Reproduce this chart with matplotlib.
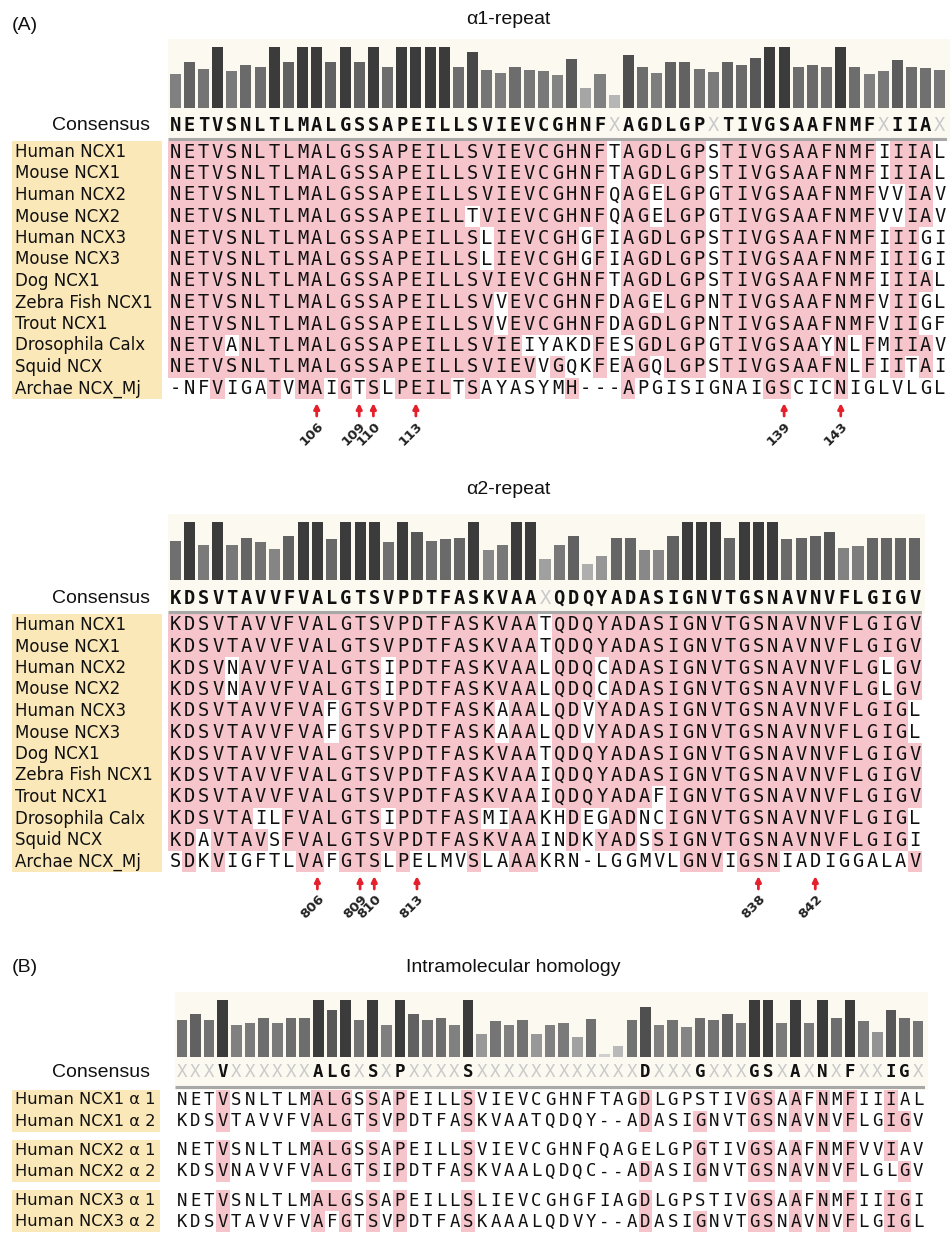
import numpy as np
import matplotlib
matplotlib.use("Agg")
import matplotlib.pyplot as plt
from matplotlib.patches import Rectangle
from matplotlib.transforms import blended_transform_factory

# ---------------- data ----------------
species = ["Human NCX1", "Mouse NCX1", "Human NCX2", "Mouse NCX2", "Human NCX3",
           "Mouse NCX3", "Dog NCX1", "Zebra Fish NCX1", "Trout NCX1",
           "Drosophila Calx", "Squid NCX", "Archae NCX_Mj"]

a1_consensus = "NETVSNLTLMALGSSAPEILLSVIEVCGHNFXAGDLGPXTIVGSAAFNMFXIIAX"
a1_seqs = [
    "NETVSNLTLMALGSSAPEILLSVIEVCGHNFTAGDLGPSTIVGSAAFNMFIIIAL",
    "NETVSNLTLMALGSSAPEILLSVIEVCGHNFTAGDLGPSTIVGSAAFNMFIIIAL",
    "NETVSNLTLMALGSSAPEILLSVIEVCGHNFQAGELGPGTIVGSAAFNMFVVIAV",
    "NETVSNLTLMALGSSAPEILLTVIEVCGHNFQAGELGPGTIVGSAAFNMFVVIAV",
    "NETVSNLTLMALGSSAPEILLSLIEVCGHGFIAGDLGPSTIVGSAAFNMFIIIGI",
    "NETVSNLTLMALGSSAPEILLSLIEVCGHGFIAGDLGPSTIVGSAAFNMFIIIGI",
    "NETVSNLTLMALGSSAPEILLSVIEVCGHNFTAGDLGPSTIVGSAAFNMFIIIAL",
    "NETVSNLTLMALGSSAPEILLSVVEVCGHNFDAGELGPNTIVGSAAFNMFVIIGL",
    "NETVSNLTLMALGSSAPEILLSVVEVCGHNFDAGDLGPNTIVGSAAFNMFVIIGF",
    "NETVANLTLMALGSSAPEILLSVIEIYAKDFESGDLGPGTIVGSAAYNLFMIIAV",
    "NETVSNLTLMALGSSAPEILLSVIEVVGQKFEAGQLGPSTIVGSAAFNLFIITAI",
    "-NFVIGATVMAIGTSLPEILTSAYASYMH---APGISIGNAIGSCICNIGLVLGL",
]
a1_conservation = [0.56, 0.75, 0.64, 1.0, 0.60, 0.70, 0.68, 1.0, 0.76, 1.0,
                   1.0, 0.76, 1.0, 0.75, 1.0, 0.68, 1.0, 1.0, 1.0, 1.0,
                   0.68, 0.92, 0.63, 0.58, 0.68, 0.62, 0.61, 0.54, 0.80, 0.32,
                   0.56, 0.22, 0.87, 0.68, 0.58, 0.76, 0.75, 0.64, 0.59, 0.75,
                   0.70, 0.82, 1.0, 1.0, 0.68, 0.70, 0.67, 1.0, 0.68, 0.56,
                   0.61, 0.79, 0.68, 0.66, 0.62]
a1_sites = [106, 109, 110, 113, 139, 143]
a1_site_cols = [11, 14, 15, 18, 44, 48]

a2_consensus = "KDSVTAVVFVALGTSVPDTFASKVAAXQDQYADASIGNVTGSNAVNVFLGIGV"
a2_seqs = [
    "KDSVTAVVFVALGTSVPDTFASKVAATQDQYADASIGNVTGSNAVNVFLGIGV",
    "KDSVTAVVFVALGTSVPDTFASKVAATQDQYADASIGNVTGSNAVNVFLGIGV",
    "KDSVNAVVFVALGTSIPDTFASKVAALQDQCADASIGNVTGSNAVNVFLGLGV",
    "KDSVNAVVFVALGTSIPDTFASKVAALQDQCADASIGNVTGSNAVNVFLGLGV",
    "KDSVTAVVFVAFGTSVPDTFASKAAALQDVYADASIGNVTGSNAVNVFLGIGL",
    "KDSVTAVVFVAFGTSVPDTFASKAAALQDVYADASIGNVTGSNAVNVFLGIGL",
    "KDSVTAVVFVALGTSVPDTFASKVAATQDQYADASIGNVTGSNAVNVFLGIGV",
    "KDSVTAVVFVALGTSVPDTFASKVAAIQDQYADASIGNVTGSNAVNVFLGIGV",
    "KDSVTAVVFVALGTSVPDTFASKVAAIQDQYADAFIGNVTGSNAVNVFLGIGV",
    "KDSVTAILFVALGTSIPDTFASMIAAKHDEGADNCIGNVTGSNAVNVFLGIGL",
    "KDAVTAVSFVALGTSVPDTFASKVAAINDKYADSSIGNVTGSNAVNVFLGIGI",
    "SDKVIGFTLVAFGTSLPELMVSLAAAKRN-LGGMVLGNVIGSNIADIGGALAV",
]
a2_conservation = [0.67, 1.0, 0.60, 1.0, 0.61, 0.73, 0.65, 0.53, 0.76, 1.0,
                   1.0, 0.71, 1.0, 1.0, 1.0, 0.66, 1.0, 0.83, 0.67, 0.70,
                   0.73, 1.0, 0.51, 0.61, 1.0, 1.0, 0.36, 0.61, 0.76, 0.27,
                   0.42, 0.73, 0.73, 0.51, 0.51, 0.76, 1.0, 1.0, 1.0, 0.73,
                   1.0, 1.0, 1.0, 0.70, 0.73, 0.76, 0.83, 0.55, 0.58, 0.73,
                   0.73, 0.73, 0.73]
a2_sites = [806, 809, 810, 813, 838, 842]
a2_site_cols = [11, 14, 15, 18, 42, 46]

b_labels = ["Human NCX1 α 1", "Human NCX1 α 2", "Human NCX2 α 1",
            "Human NCX2 α 2", "Human NCX3 α 1", "Human NCX3 α 2"]
b_consensus = "XXXVXXXXXXALGXSXPXXXXSXXXXXXXXXXXXDXXXGXXXGSXAXNXFXXIGX"
b_seqs = [
    "NETVSNLTLMALGSSAPEILLSVIEVCGHNFTAGDLGPSTIVGSAAFNMFIIIAL",
    "KDSVTAVVFVALGTSVPDTFASKVAATQDQY--ADASIGNVTGSNAVNVFLGIGV",
    "NETVSNLTLMALGSSAPEILLSVIEVCGHNFQAGELGPGTIVGSAAFNMFVVIAV",
    "KDSVNAVVFVALGTSIPDTFASKVAALQDQC--ADASIGNVTGSNAVNVFLGLGV",
    "NETVSNLTLMALGSSAPEILLSLIEVCGHGFIAGDLGPSTIVGSAAFNMFIIIGI",
    "KDSVTAVVFVAFGTSVPDTFASKAAALQDVY--ADASIGNVTGSNAVNVFLGIGL",
]
b_conservation = [0.65, 0.76, 0.65, 1.0, 0.56, 0.60, 0.68, 0.60, 0.68, 0.68,
                  1.0, 0.82, 1.0, 0.65, 1.0, 0.57, 1.0, 0.76, 0.65, 0.68,
                  0.56, 1.0, 0.41, 0.63, 0.56, 0.65, 0.41, 0.56, 0.60, 0.35,
                  0.66, 0.06, 0.20, 0.65, 0.87, 0.56, 0.65, 0.53, 0.68, 0.65,
                  0.76, 0.60, 1.0, 1.0, 0.60, 1.0, 0.60, 1.0, 0.68, 1.0,
                  0.63, 0.44, 0.82, 0.68, 0.63]

# ---------------- style ----------------
W, H = 950, 1236
PINK = "#f5c5cb"
YELLOW = "#fbe8b8"
CREAM = "#fcf9f1"
INK = "#111111"
SEQ_FONT = "DejaVu Sans Mono"
LAB_FONT = "DejaVu Sans"
HEAD_FONT = ["Liberation Sans", "DejaVu Sans"]

fig = plt.figure(figsize=(W / 100, H / 100), dpi=100)
fig.patch.set_facecolor("white")


def px_axes(x0, y0, x1, y1):
    ax = fig.add_axes([x0 / W, 1 - y1 / H, (x1 - x0) / W, (y1 - y0) / H])
    ax.set_axis_off()
    return ax


def bar_color(h):
    v = 0.23 + (1 - h) * 0.62
    return (v, v, v)


def cream_box(x0, y0, x1, y1):
    fig.add_artist(Rectangle((x0 / W, 1 - y1 / H), (x1 - x0) / W, (y1 - y0) / H,
                             transform=fig.transFigure, color=CREAM, lw=0, zorder=-5))


def draw_bars(x0, x1, y0, y1, heights):
    ax = px_axes(x0, y0, x1, y1)
    n = len(heights)
    ax.bar(np.arange(n) + 0.5, heights, width=0.78,
           color=[bar_color(h) for h in heights], lw=0)
    ax.set_xlim(0, n)
    ax.set_ylim(0, 1)


def block_axes(x0, x1, r0, rp, ytop, ybot):
    return px_axes(x0, r0 + ytop * rp, x1, r0 + ybot * rp)


def draw_consensus(ax, cons, y, line_y, size):
    for j, ch in enumerate(cons):
        if ch == "X":
            ax.text(j + 0.5, y, "X", color="#cacaca", family=SEQ_FONT, size=size,
                    ha="center", va="center")
        else:
            ax.text(j + 0.5, y, ch, color=INK, family=SEQ_FONT, weight="bold",
                    size=size, ha="center", va="center")
    ax.plot([0, len(cons)], [line_y, line_y], color="#a8a8a8", lw=2.2,
            solid_capstyle="butt")
    tr = blended_transform_factory(fig.transFigure, ax.transData)
    ax.text(150 / W, y, "Consensus", transform=tr, ha="right", va="center",
            family=HEAD_FONT, size=14, color=INK)


def draw_rows(ax, seqs, ys, cons, size):
    for seq, y in zip(seqs, ys):
        for j, ch in enumerate(seq):
            if ch == cons[j] and ch != "X":
                ax.add_patch(Rectangle((j, y - 0.5), 1, 1, facecolor=PINK, lw=0,
                                       antialiased=False))
            ax.text(j + 0.5, y, ch, color=INK, family=SEQ_FONT, size=size,
                    ha="center", va="center")


def draw_labels(ax, labels, ys, groups, x1_px, size):
    tr = blended_transform_factory(fig.transFigure, ax.transData)
    for g0, g1 in groups:
        ax.add_patch(Rectangle((12 / W, ys[g0] - 0.5), (x1_px - 12) / W,
                               ys[g1] - ys[g0] + 1, transform=tr, facecolor=YELLOW,
                               lw=0, clip_on=False))
    for lab, y in zip(labels, ys):
        ax.text(15 / W, y, lab, transform=tr, ha="left", va="center",
                family=LAB_FONT, size=size, color=INK)


def draw_sites(ax, cols, nums, y_arrow, y_num):
    for c, num in zip(cols, nums):
        ax.annotate("", xy=(c - 0.5, y_arrow - 0.32), xytext=(c - 0.5, y_arrow + 0.28),
                    arrowprops=dict(arrowstyle="-|>", color="#e3202b", lw=2.0,
                                    mutation_scale=8, shrinkA=0, shrinkB=0))
        ax.text(c - 0.85, y_num, str(num), rotation=45, ha="center", va="center",
                family=LAB_FONT, weight="bold", size=9.5, color="#222222")


def alignment_panel(x0, x1, r0, rp, title, title_y, cons, seqs, cons_h,
                    bar_y0, bar_y1, cols, nums, size):
    ncol = len(cons)
    cream_box(x0, bar_y0 - 8, x1 + 3, r0 - 0.5 * rp)
    fig.text(508 / W, 1 - title_y / H, title, ha="center", va="center",
             family=HEAD_FONT, size=14, color=INK)
    draw_bars(x0, x1, bar_y0, bar_y1, cons_h)
    ax = block_axes(x0, x1, r0, rp, -2.0, 13.6)
    ys = list(range(len(seqs)))
    draw_rows(ax, seqs, ys, cons, size)
    draw_consensus(ax, cons, -1.25, -0.6, size)
    draw_labels(ax, species, ys, [(0, len(seqs) - 1)], 162, 12)
    draw_sites(ax, cols, nums, 12.0, 13.1)
    ax.set_xlim(0, ncol)
    ax.set_ylim(13.6, -2.0)


# ---------------- panel A ----------------
fig.text(12 / W, 1 - 26 / H, "(A)", ha="left", va="center", family=HEAD_FONT,
         size=14, color=INK)
alignment_panel(168, 947, 152, 21.5, "α1-repeat", 20, a1_consensus, a1_seqs,
                a1_conservation, 47, 108, a1_site_cols, a1_sites, 13.5)
alignment_panel(168, 922, 625, 21.5, "α2-repeat", 490, a2_consensus, a2_seqs,
                a2_conservation, 522, 580, a2_site_cols, a2_sites, 13.5)

# ---------------- panel B ----------------
fig.text(12 / W, 1 - 968 / H, "(B)", ha="left", va="center", family=HEAD_FONT,
         size=14, color=INK)
fig.text(513 / W, 1 - 968 / H, "Intramolecular homology", ha="center", va="center",
         family=HEAD_FONT, size=14, color=INK)
bx0, bx1, br0, brp = 175, 925, 1100, 21.0
cream_box(bx0, 992, bx1 + 3, br0 - 0.5 * brp)
draw_bars(bx0, bx1, 1000, 1057, b_conservation)
axb = block_axes(bx0, bx1, br0, brp, -2.0, 6.5)
b_ys = [0, 1, 2.4, 3.4, 4.8, 5.8]
draw_rows(axb, b_seqs, b_ys, b_consensus, 12.5)
draw_consensus(axb, b_consensus, -1.33, -0.64, 12.5)
draw_labels(axb, b_labels, b_ys, [(0, 1), (2, 3), (4, 5)], 160, 11.7)
axb.set_xlim(0, len(b_consensus))
axb.set_ylim(6.5, -2.0)

fig.savefig("out.png", dpi=100, facecolor="white")
